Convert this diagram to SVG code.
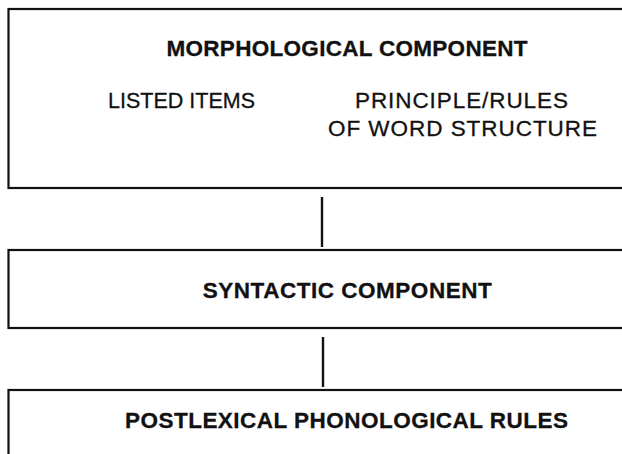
<svg xmlns="http://www.w3.org/2000/svg" width="622" height="454" viewBox="0 0 622 454">
<style>
.box{fill:#fff;stroke:#111;stroke-width:2.2}
.t{font-family:"Liberation Sans",Arial,sans-serif;fill:#111;font-size:22.5px;stroke:#111;stroke-width:0.3}
.b{font-weight:bold}
.c{stroke:#111;stroke-width:2.4;fill:none}
</style>
<rect width="622" height="454" fill="#fff"/>
<g id="connectors">
<line class="c" x1="322" y1="197" x2="322" y2="247"/>
<line class="c" x1="323" y1="337" x2="323" y2="387"/>
</g>
<g id="morphological">
<rect class="box" x="8.5" y="9" width="640" height="179"/>
<text class="t b" x="166.5" y="55.5" textLength="361" lengthAdjust="spacing">MORPHOLOGICAL COMPONENT</text>
<text class="t" x="108" y="108" textLength="147" lengthAdjust="spacingAndGlyphs">LISTED ITEMS</text>
<text class="t" x="355" y="108" textLength="213" lengthAdjust="spacing">PRINCIPLE/RULES</text>
<text class="t" x="328" y="136" textLength="269" lengthAdjust="spacing">OF WORD STRUCTURE</text>
</g>
<g id="syntactic">
<rect class="box" x="8.5" y="250" width="640" height="78"/>
<text class="t b" x="202.7" y="298" textLength="289" lengthAdjust="spacing">SYNTACTIC COMPONENT</text>
</g>
<g id="postlexical">
<rect class="box" x="8.5" y="390" width="640" height="90"/>
<text class="t b" x="125" y="428" textLength="443" lengthAdjust="spacing">POSTLEXICAL PHONOLOGICAL RULES</text>
</g>
</svg>
